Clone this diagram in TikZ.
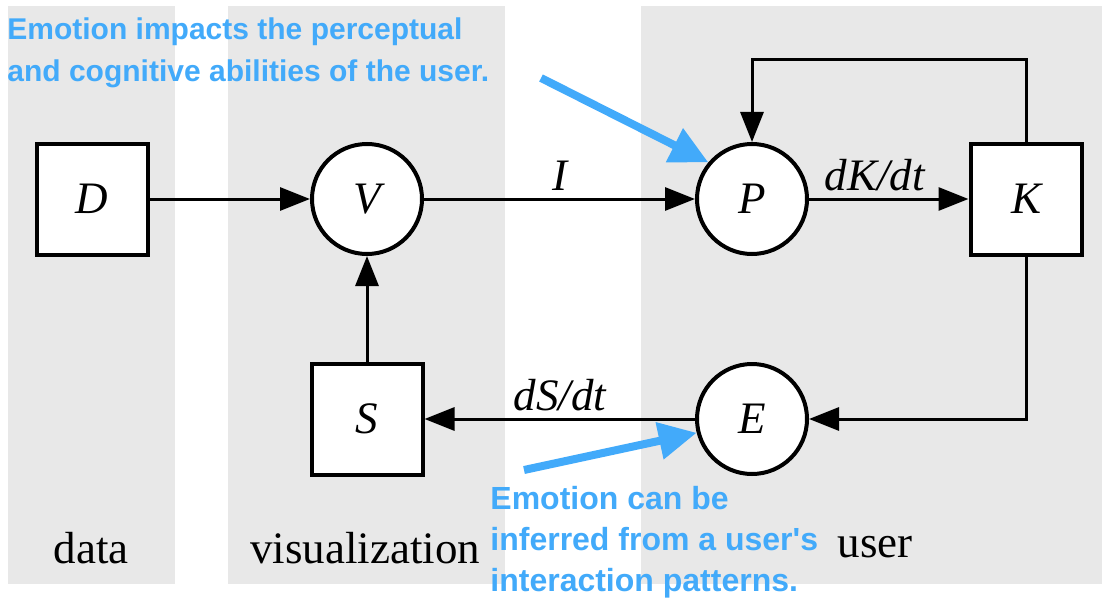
\documentclass[tikz,border=0pt]{standalone}
\usepackage{fontspec}
\setmainfont{Liberation Serif}
\newfontfamily\notefont{Liberation Sans}
\usetikzlibrary{arrows.meta}
\definecolor{panel}{RGB}{232,232,232}
\definecolor{note}{RGB}{66,170,250}

\begin{document}
\begin{tikzpicture}[
  x=0.5pt, y=-0.5pt,
  box/.style={draw, line width=2pt, fill=white, minimum size=55.5pt,
    inner sep=0pt, font=\fontsize{22.5}{27}\selectfont\itshape},
  state/.style={box, circle, minimum size=55pt},
  arr/.style={line width=1.5pt, -{Triangle[length=15pt,width=11.5pt]}},
  lbl/.style={anchor=base, font=\fontsize{22.5}{27}\selectfont},
  rate/.style={above, font=\fontsize{22.5}{27}\selectfont\itshape},
  notearr/.style={note, line width=4pt, -{Triangle[length=19pt,width=18pt]}},
  notetext/.style={text=note, inner sep=0pt, anchor=north west, align=left,
    font=\notefont\bfseries\fontsize{15}{21}\selectfont},
]
\useasboundingbox (0,0) rectangle (1102,599);
\fill[panel] (8,6) rectangle (175,584);
\fill[panel] (228,6) rectangle (505,584);
\fill[panel] (641,6) rectangle (1102,584);

\node[box]   (D) at (92,199)   {D};
\node[state] (V) at (367,199)  {V};
\node[state] (P) at (752,199)  {P};
\node[box]   (K) at (1026,199) {K};
\node[box]   (S) at (367,419)  {S};
\node[state] (E) at (752,419)  {E};

\coordinate (loop) at (890,60);

\draw[arr] (D) -- (V);
\draw[arr] (V) -- node[rate] {I} (P);
\draw[arr] (P) -- node[rate, xshift=-7pt] {dK/dt} (K);
\draw[arr] (K.north) |- (loop) -| (P.north);
\draw[arr] (K.south) |- (E.east);
\draw[arr] (E) -- node[rate] {dS/dt} (S);
\draw[arr] (S) -- (V);

\node[lbl] (data) at (91,563)  {data};
\node[lbl] (vis)  at (365,563) {visualization};
\node[lbl] (user) at (875,557) {user};

\node[notetext] (note1) at (7,17)
  {Emotion impacts the perceptual\\and cognitive abilities of the user.};
\node[notetext, font=\notefont\bfseries\fontsize{16}{20.5}\selectfont] (note2) at (490,486)
  {Emotion can be\\inferred from a user's\\interaction patterns.};

\coordinate (tail1) at (541,78);
\coordinate (tail2) at (524,470);
\draw[notearr] (tail1) -- (P.140);
\draw[notearr] (tail2) -- (E.194);
\end{tikzpicture}
\end{document}
